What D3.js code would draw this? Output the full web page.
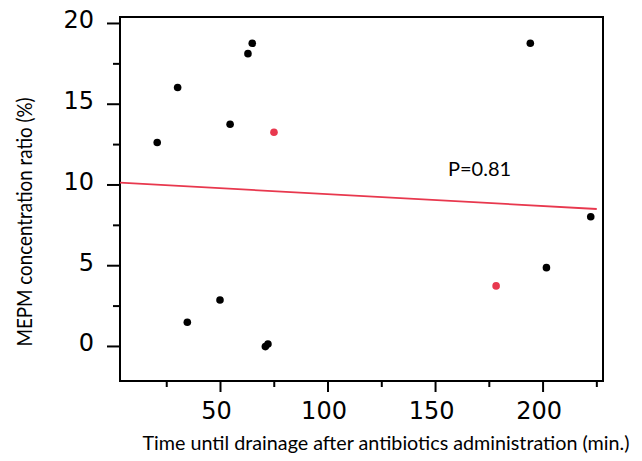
<!DOCTYPE html>
<html>
<head>
<meta charset="utf-8">
<script src="https://cdn.jsdelivr.net/npm/d3@7"></script>
<style>
  body { margin: 0; background: #fff; }
</style>
</head>
<body>
<div id="chart"></div>
<script>
// drainage time (min.) and MEPM concentration ratio (%)
var timeBlack = [20.8, 30.3, 34.8, 50.0, 54.7, 63.0, 65.0, 71.1, 72.3, 194.3, 201.8, 222.4];
var ratioBlack = [12.6, 16.0, 1.47, 2.85, 13.73, 18.1, 18.74, -0.04, 0.12, 18.74, 4.85, 8.0];
var timeRed = [75.1, 178.4];
var ratioRed = [13.23, 3.72];

// regression line ends
var fitX = [3.5, 225.2];
var fitY = [10.11, 8.48];

var xMajor = [50, 100, 150, 200];
var xMinor = [25, 75, 125, 175, 225];
var yMajor = [0, 5, 10, 15, 20];
var yMinor = [2.5, 7.5, 12.5, 17.5];

var pLabel = "P=0.81";

function init() {
    var w = 642, h = 461;
    var left = 120, right = 603, top = 17, bottom = 381;
    var red = "#e8384e";

    var svg = d3.select("#chart").append("svg")
                .attr("width", w)
                .attr("height", h);

    var xScale = d3.scaleLinear().domain([3.5, 228.1]).range([left, right]);
    var yScale = d3.scaleLinear().domain([-2.17, 20.37]).range([bottom, top]);

    // x ticks
    var xAxis = d3.axisBottom(xScale).tickValues(xMajor).tickSize(11).tickPadding(10)
                  .tickFormat(d3.format("d"));
    var gx = svg.append("g").attr("transform", "translate(0," + bottom + ")").call(xAxis);
    var gxm = svg.append("g").attr("transform", "translate(0," + bottom + ")")
                 .call(d3.axisBottom(xScale).tickValues(xMinor).tickSize(6).tickFormat(""));

    // y ticks
    var yAxis = d3.axisLeft(yScale).tickValues(yMajor).tickSize(13).tickPadding(13)
                  .tickFormat(d3.format("d"));
    var gy = svg.append("g").attr("transform", "translate(" + left + ",0)").call(yAxis);
    var gym = svg.append("g").attr("transform", "translate(" + left + ",0)")
                 .call(d3.axisLeft(yScale).tickValues(yMinor).tickSize(7).tickFormat(""));

    [gx, gxm, gy, gym].forEach(function(g) {
        g.select(".domain").remove();
        g.selectAll("line").attr("stroke", "#000").attr("stroke-width", 2);
        g.selectAll("text")
         .attr("fill", "#000")
         .style("font-family", "DejaVu Sans")
         .style("font-size", "24px");
    });
    gx.selectAll("text").attr("dx", -4);
    gy.selectAll("text").attr("dy", "0.2em");

    // box
    svg.append("rect")
       .attr("x", left).attr("y", top)
       .attr("width", right - left).attr("height", bottom - top)
       .attr("fill", "none").attr("stroke", "#000").attr("stroke-width", 2);

    // fit line
    svg.append("line")
       .attr("x1", xScale(fitX[0])).attr("y1", yScale(fitY[0]))
       .attr("x2", xScale(fitX[1])).attr("y2", yScale(fitY[1]))
       .attr("stroke", red).attr("stroke-width", 1.8);

    // points
    svg.append("g").selectAll("circle")
       .data(d3.range(timeBlack.length))
       .enter().append("circle")
       .attr("cx", function(i) { return xScale(timeBlack[i]); })
       .attr("cy", function(i) { return yScale(ratioBlack[i]); })
       .attr("r", 3.8)
       .attr("fill", "#000");

    svg.append("g").selectAll("circle")
       .data(d3.range(timeRed.length))
       .enter().append("circle")
       .attr("cx", function(i) { return xScale(timeRed[i]); })
       .attr("cy", function(i) { return yScale(ratioRed[i]); })
       .attr("r", 3.8)
       .attr("fill", red);

    svg.append("text")
       .attr("x", 448).attr("y", 176)
       .style("font-family", "Lato")
       .style("font-size", "20px")
       .text(pLabel);

    svg.append("text")
       .attr("x", 386).attr("y", 450)
       .attr("text-anchor", "middle")
       .attr("textLength", 487)
       .attr("lengthAdjust", "spacingAndGlyphs")
       .style("font-family", "Lato")
       .style("font-size", "20px")
       .text("Time until drainage after antibiotics administration (min.)");

    svg.append("text")
       .attr("transform", "translate(32,222) rotate(-90)")
       .attr("text-anchor", "middle")
       .attr("textLength", 249)
       .attr("lengthAdjust", "spacingAndGlyphs")
       .style("font-family", "Lato")
       .style("font-size", "21px")
       .text("MEPM concentration ratio (%)");
}

window.onload = init;
</script>
</body>
</html>
